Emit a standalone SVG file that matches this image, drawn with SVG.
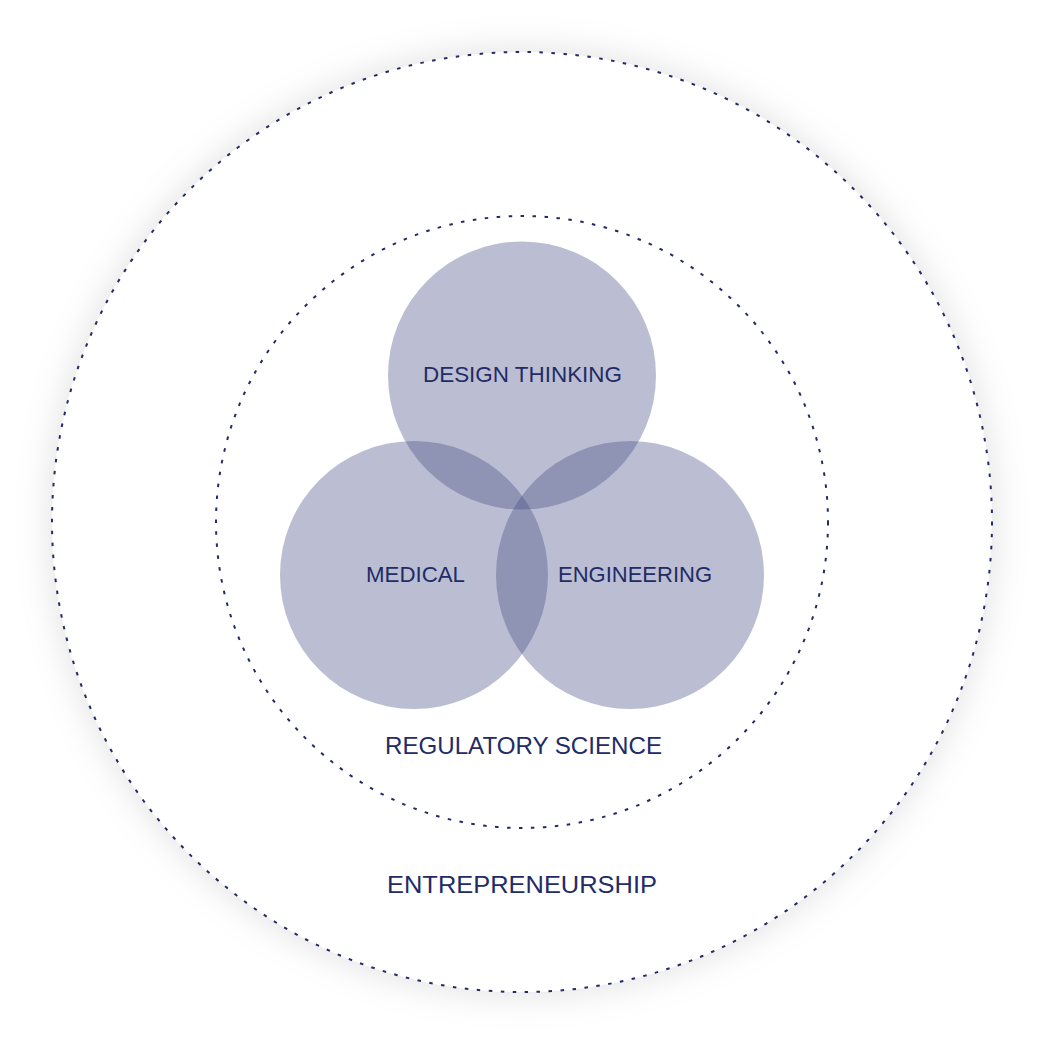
<svg xmlns="http://www.w3.org/2000/svg" width="1044" height="1043" viewBox="0 0 1044 1043">
  <defs>
    <filter id="glow" x="-20%" y="-20%" width="140%" height="140%">
      <feDropShadow dx="0" dy="0" stdDeviation="18" flood-color="#000" flood-opacity="0.13"/>
    </filter>
    <style>
      .ring { fill: none; stroke: #232a66; stroke-width: 2; stroke-dasharray: 3.5 8.5; }
      .venn { fill: #424a83; fill-opacity: 0.36; }
      .lbl { font-family: "Liberation Sans", Arial, sans-serif; fill: #222b66; text-anchor: middle; }
    </style>
  </defs>
  <rect width="1044" height="1043" fill="#ffffff"/>
  <g id="entrepreneurship">
    <circle cx="522" cy="522" r="470" fill="#ffffff" filter="url(#glow)"/>
    <circle class="ring" cx="522" cy="522" r="470"/>
    <text class="lbl" x="522" y="893" font-size="24" textLength="270" lengthAdjust="spacingAndGlyphs">ENTREPRENEURSHIP</text>
  </g>
  <g id="regulatory-science">
    <circle class="ring" cx="522" cy="522" r="306"/>
    <text class="lbl" x="523.5" y="754" font-size="24" textLength="277" lengthAdjust="spacingAndGlyphs">REGULATORY SCIENCE</text>
  </g>
  <g id="design-thinking">
    <circle class="venn" cx="522" cy="375.5" r="134"/>
    <text class="lbl" x="522.5" y="382" font-size="22" textLength="199" lengthAdjust="spacingAndGlyphs">DESIGN THINKING</text>
  </g>
  <g id="medical">
    <circle class="venn" cx="414" cy="575" r="134"/>
    <text class="lbl" x="415.5" y="582" font-size="22" textLength="99" lengthAdjust="spacingAndGlyphs">MEDICAL</text>
  </g>
  <g id="engineering">
    <circle class="venn" cx="630" cy="575" r="134"/>
    <text class="lbl" x="635" y="582" font-size="22" textLength="154" lengthAdjust="spacingAndGlyphs">ENGINEERING</text>
  </g>
  <g id="connectors"/>
</svg>
